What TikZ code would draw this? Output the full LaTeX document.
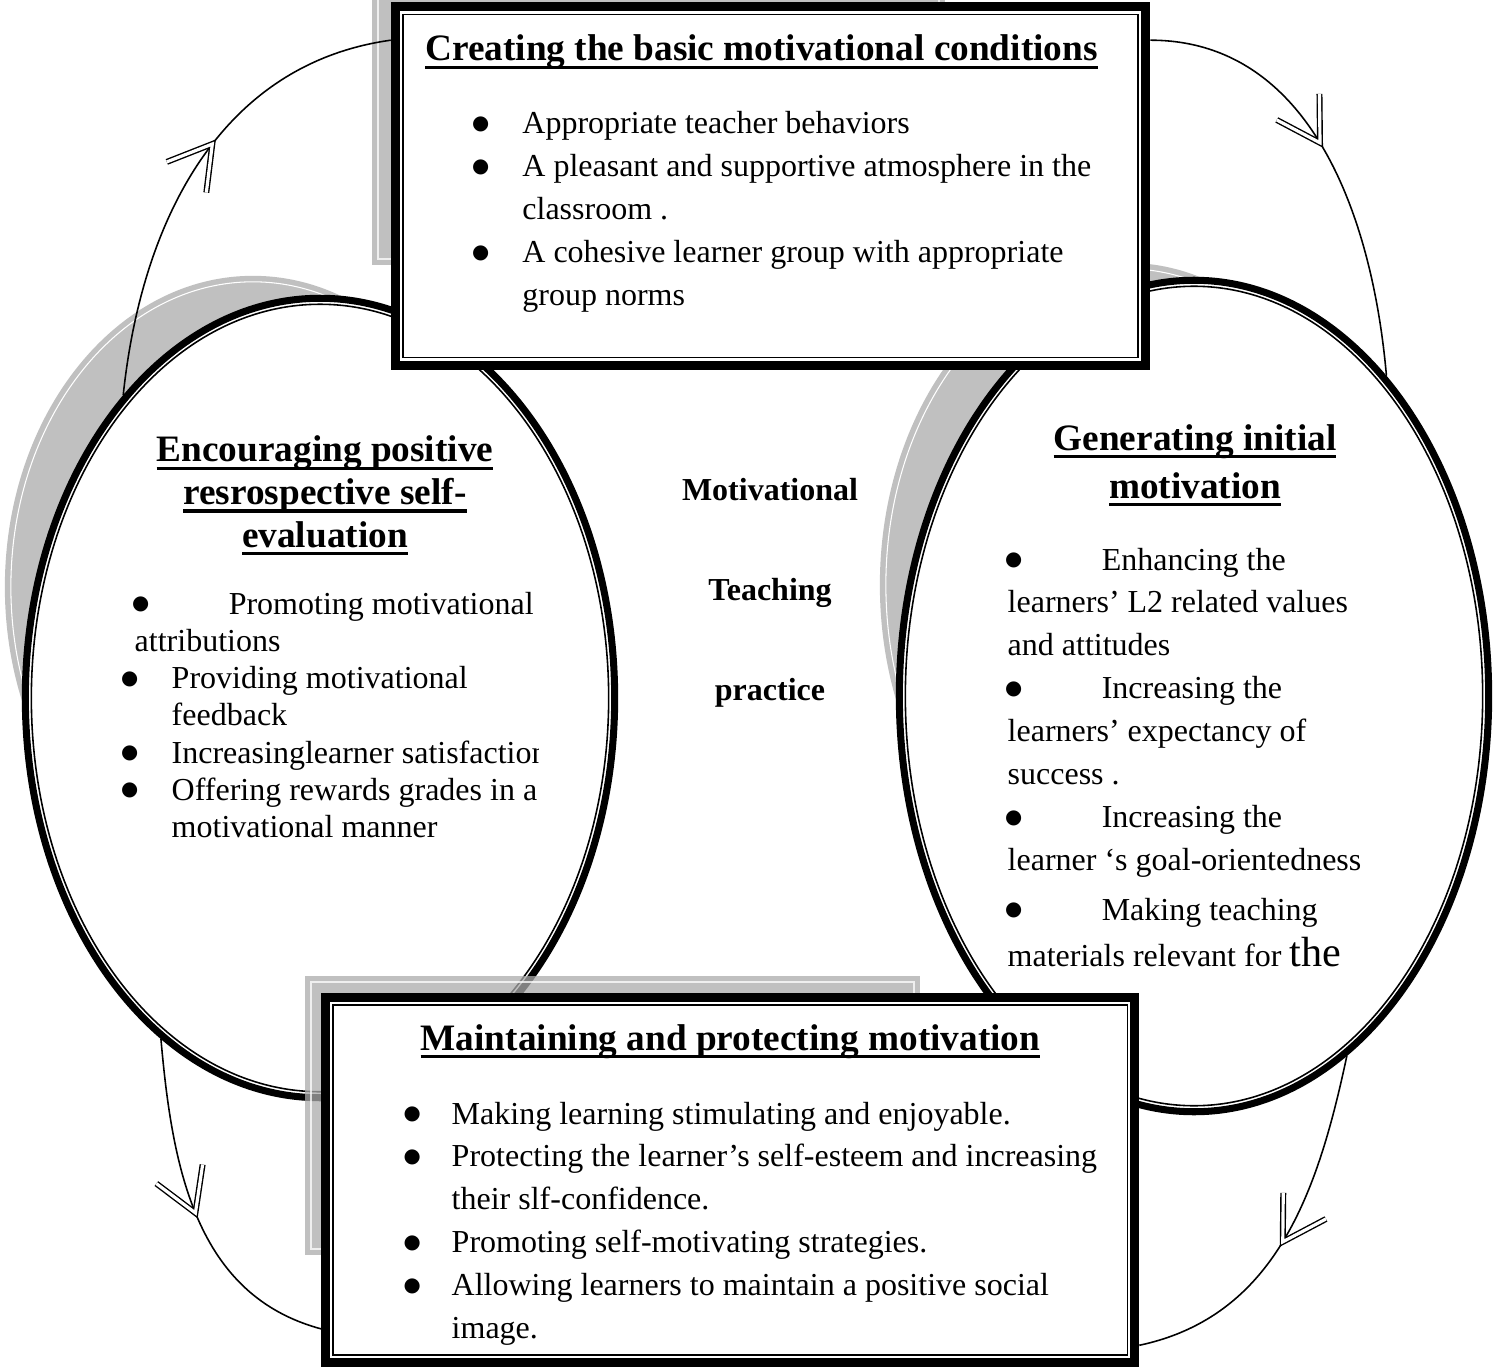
\documentclass[tikz,border=0pt]{standalone}
\usepackage{fontspec}
\setmainfont{Liberation Serif}
\newfontfamily\dotfont{DejaVu Sans}
\usepackage{tikz}
\usetikzlibrary{shapes.geometric,decorations.markings}
\definecolor{shadowgrey}{RGB}{192,192,192}
\definecolor{shadowdark}{RGB}{171,171,171}
\newcommand{\hul}[1]{\setbox0=\hbox{#1}\rlap{\rule[-2.3pt]{\wd0}{0.9pt}}\box0}
\newcommand{\bul}{\makebox[0pt][c]{\raisebox{1.25pt}{\dotfont\fontsize{5.6}{6}\selectfont ●}}}
\tikzset{
  ellring/.style={ellipse, draw, fill=white, line width=2pt, inner sep=0pt},
  boxframe/.style={rectangle, draw, fill=white, line width=2.6pt, inner sep=0pt},
  thinline/.style={line width=0.45pt},
  cycarrow/.style={line width=0.45pt, postaction={decorate},
    decoration={markings, mark=at position #1 with {\draw[line width=0.4pt, double=white, double distance=0.9pt, line join=miter] (-0.42cm,0.25cm) -- (0,0) -- (-0.42cm,-0.25cm);}}},
  cycarrow/.default=0.5,
  itemtext/.style={font=\fontsize{9.1}{12.2}\selectfont, inner sep=0pt},
  headtext/.style={font=\fontsize{10.6}{12.1}\selectfont\bfseries, inner sep=0pt},
  midtext/.style={font=\fontsize{9.1}{28.45}\selectfont\bfseries, inner sep=0pt}
}
\begin{document}
\begin{tikzpicture}[x=0.01cm, y=-0.01cm]
\useasboundingbox (0,0) rectangle (1494,1367);
\clip (0,0) rectangle (1494,1367);

\fill[shadowgrey] (253,587) ellipse [x radius=2.48cm, y radius=3.11cm];
\draw[white, line width=0.3pt] (253,587) ellipse [x radius=2.42cm, y radius=3.05cm];
\fill[shadowgrey] (1127,585) ellipse [x radius=2.47cm, y radius=3.22cm];
\draw[white, line width=0.3pt] (1127,585) ellipse [x radius=2.41cm, y radius=3.16cm];

\node[ellring, minimum width=5.89cm, minimum height=7.99cm] (lell) at (320,698) {};
\draw[thinline] (lell.center) ellipse [x radius=2.885cm, y radius=3.935cm];
\node[ellring, minimum width=5.89cm, minimum height=8.31cm] (rell) at (1194,696) {};
\draw[thinline] (rell.center) ellipse [x radius=2.885cm, y radius=4.095cm];

\fill[shadowdark, opacity=0.75] (372,-20) rectangle (945,265);
\draw[white, line width=0.3pt, opacity=0.75] (378,-20) rectangle (939,259);
\fill[shadowdark, opacity=0.75] (305,976) rectangle (920,1255);
\draw[white, line width=0.3pt, opacity=0.75] (311,982) rectangle (914,1249);

\node[boxframe, minimum width=7.5cm, minimum height=3.59cm] (tbox) at (770.5,186) {};
\draw[thinline] ([shift={(12.5,12.5)}]tbox.north west) rectangle ([shift={(-12.5,-12.5)}]tbox.south east);
\node[boxframe, minimum width=8.085cm, minimum height=3.65cm] (bbox) at (730.25,1180) {};
\draw[thinline] ([shift={(12,12)}]bbox.north west) rectangle ([shift={(-12,-12)}]bbox.south east);

\draw[cycarrow=0.56] (lell.123) to[out=84, in=188] (tbox.159);
\draw[cycarrow=0.46] (tbox.21) to[out=0, in=95] (rell.59);
\draw[cycarrow=0.5] (lell.-115) to[out=-85, in=165] (bbox.200);
\draw[cycarrow=0.52] (rell.-67) to[out=-102, in=12] (bbox.-22);

\node[headtext, anchor=base] (thead) at (761.5,61) {\hul{Creating the basic motivational conditions}};
\node[itemtext, anchor=base west] (titems) at (480,134) {\begin{tabular}[t]{@{}p{0.417cm}@{}l@{}}
\bul & Appropriate teacher behaviors\\
\bul & A pleasant and supportive atmosphere in the\\
 & classroom .\\
\bul & A cohesive learner group with appropriate\\
 & group norms
\end{tabular}};

\node[headtext, anchor=base] (lhead) at (325,462) {\begin{tabular}[t]{@{}c@{}}
\hul{Encouraging positive}\\
\hul{resrospective self-}\\
\hul{evaluation}
\end{tabular}};
\begin{scope}
\clip (0,560) rectangle (538,880);
\node[itemtext, anchor=base west, font=\fontsize{9.1}{10.6}\selectfont] (litems) at (129,614) {\begin{tabular}[t]{@{}l@{}}
\hspace{0.11cm}\bul\hspace{0.88cm}Promoting motivational\\
\hspace{0.05cm}attributions\\
\bul\hspace{0.42cm}Providing motivational\\
\hspace{0.42cm}feedback\\
\bul\hspace{0.42cm}Increasinglearner satisfaction\\
\bul\hspace{0.42cm}Offering rewards grades in a\\
\hspace{0.42cm}motivational manner
\end{tabular}};
\end{scope}

\node[midtext, anchor=base] (mtp) at (770,500) {\begin{tabular}[t]{@{}c@{}}
Motivational\\
Teaching\\
practice
\end{tabular}};

\node[headtext, anchor=base, font=\fontsize{10.6}{13.65}\selectfont\bfseries] (rhead) at (1195,450) {\begin{tabular}[t]{@{}c@{}}
\hul{Generating initial}\\
\hul{motivation}
\end{tabular}};
\node[itemtext, anchor=base west] (ritems) at (1007,570) {\begin{tabular}[t]{@{}l@{}}
\hspace{0.06cm}\bul\hspace{0.88cm}Enhancing the\\
learners’ L2 related values\\
and attitudes\\
\hspace{0.06cm}\bul\hspace{0.88cm}Increasing the\\
learners’ expectancy of\\
success .\\
\hspace{0.06cm}\bul\hspace{0.88cm}Increasing the\\
learner ‘s goal-orientedness\\[2pt]
\hspace{0.06cm}\bul\hspace{0.88cm}Making teaching\\[0.9pt]
materials relevant for {\fontsize{12}{12.2}\selectfont the}
\end{tabular}};

\node[headtext, anchor=base] (bhead) at (730.5,1050) {\hul{Maintaining and protecting motivation}};
\begin{scope}
\clip (333,1005) rectangle (1127,1346);
\node[itemtext, anchor=base west] (bitems) at (411.5,1124) {\begin{tabular}[t]{@{}p{0.395cm}@{}l@{}}
\bul & Making learning stimulating and enjoyable.\\
\bul & Protecting the learner’s self-esteem and increasing\\
 & their slf-confidence.\\
\bul & Promoting self-motivating strategies.\\
\bul & Allowing learners to maintain a positive social\\
 & image.
\end{tabular}};
\end{scope}
\end{tikzpicture}
\end{document}
